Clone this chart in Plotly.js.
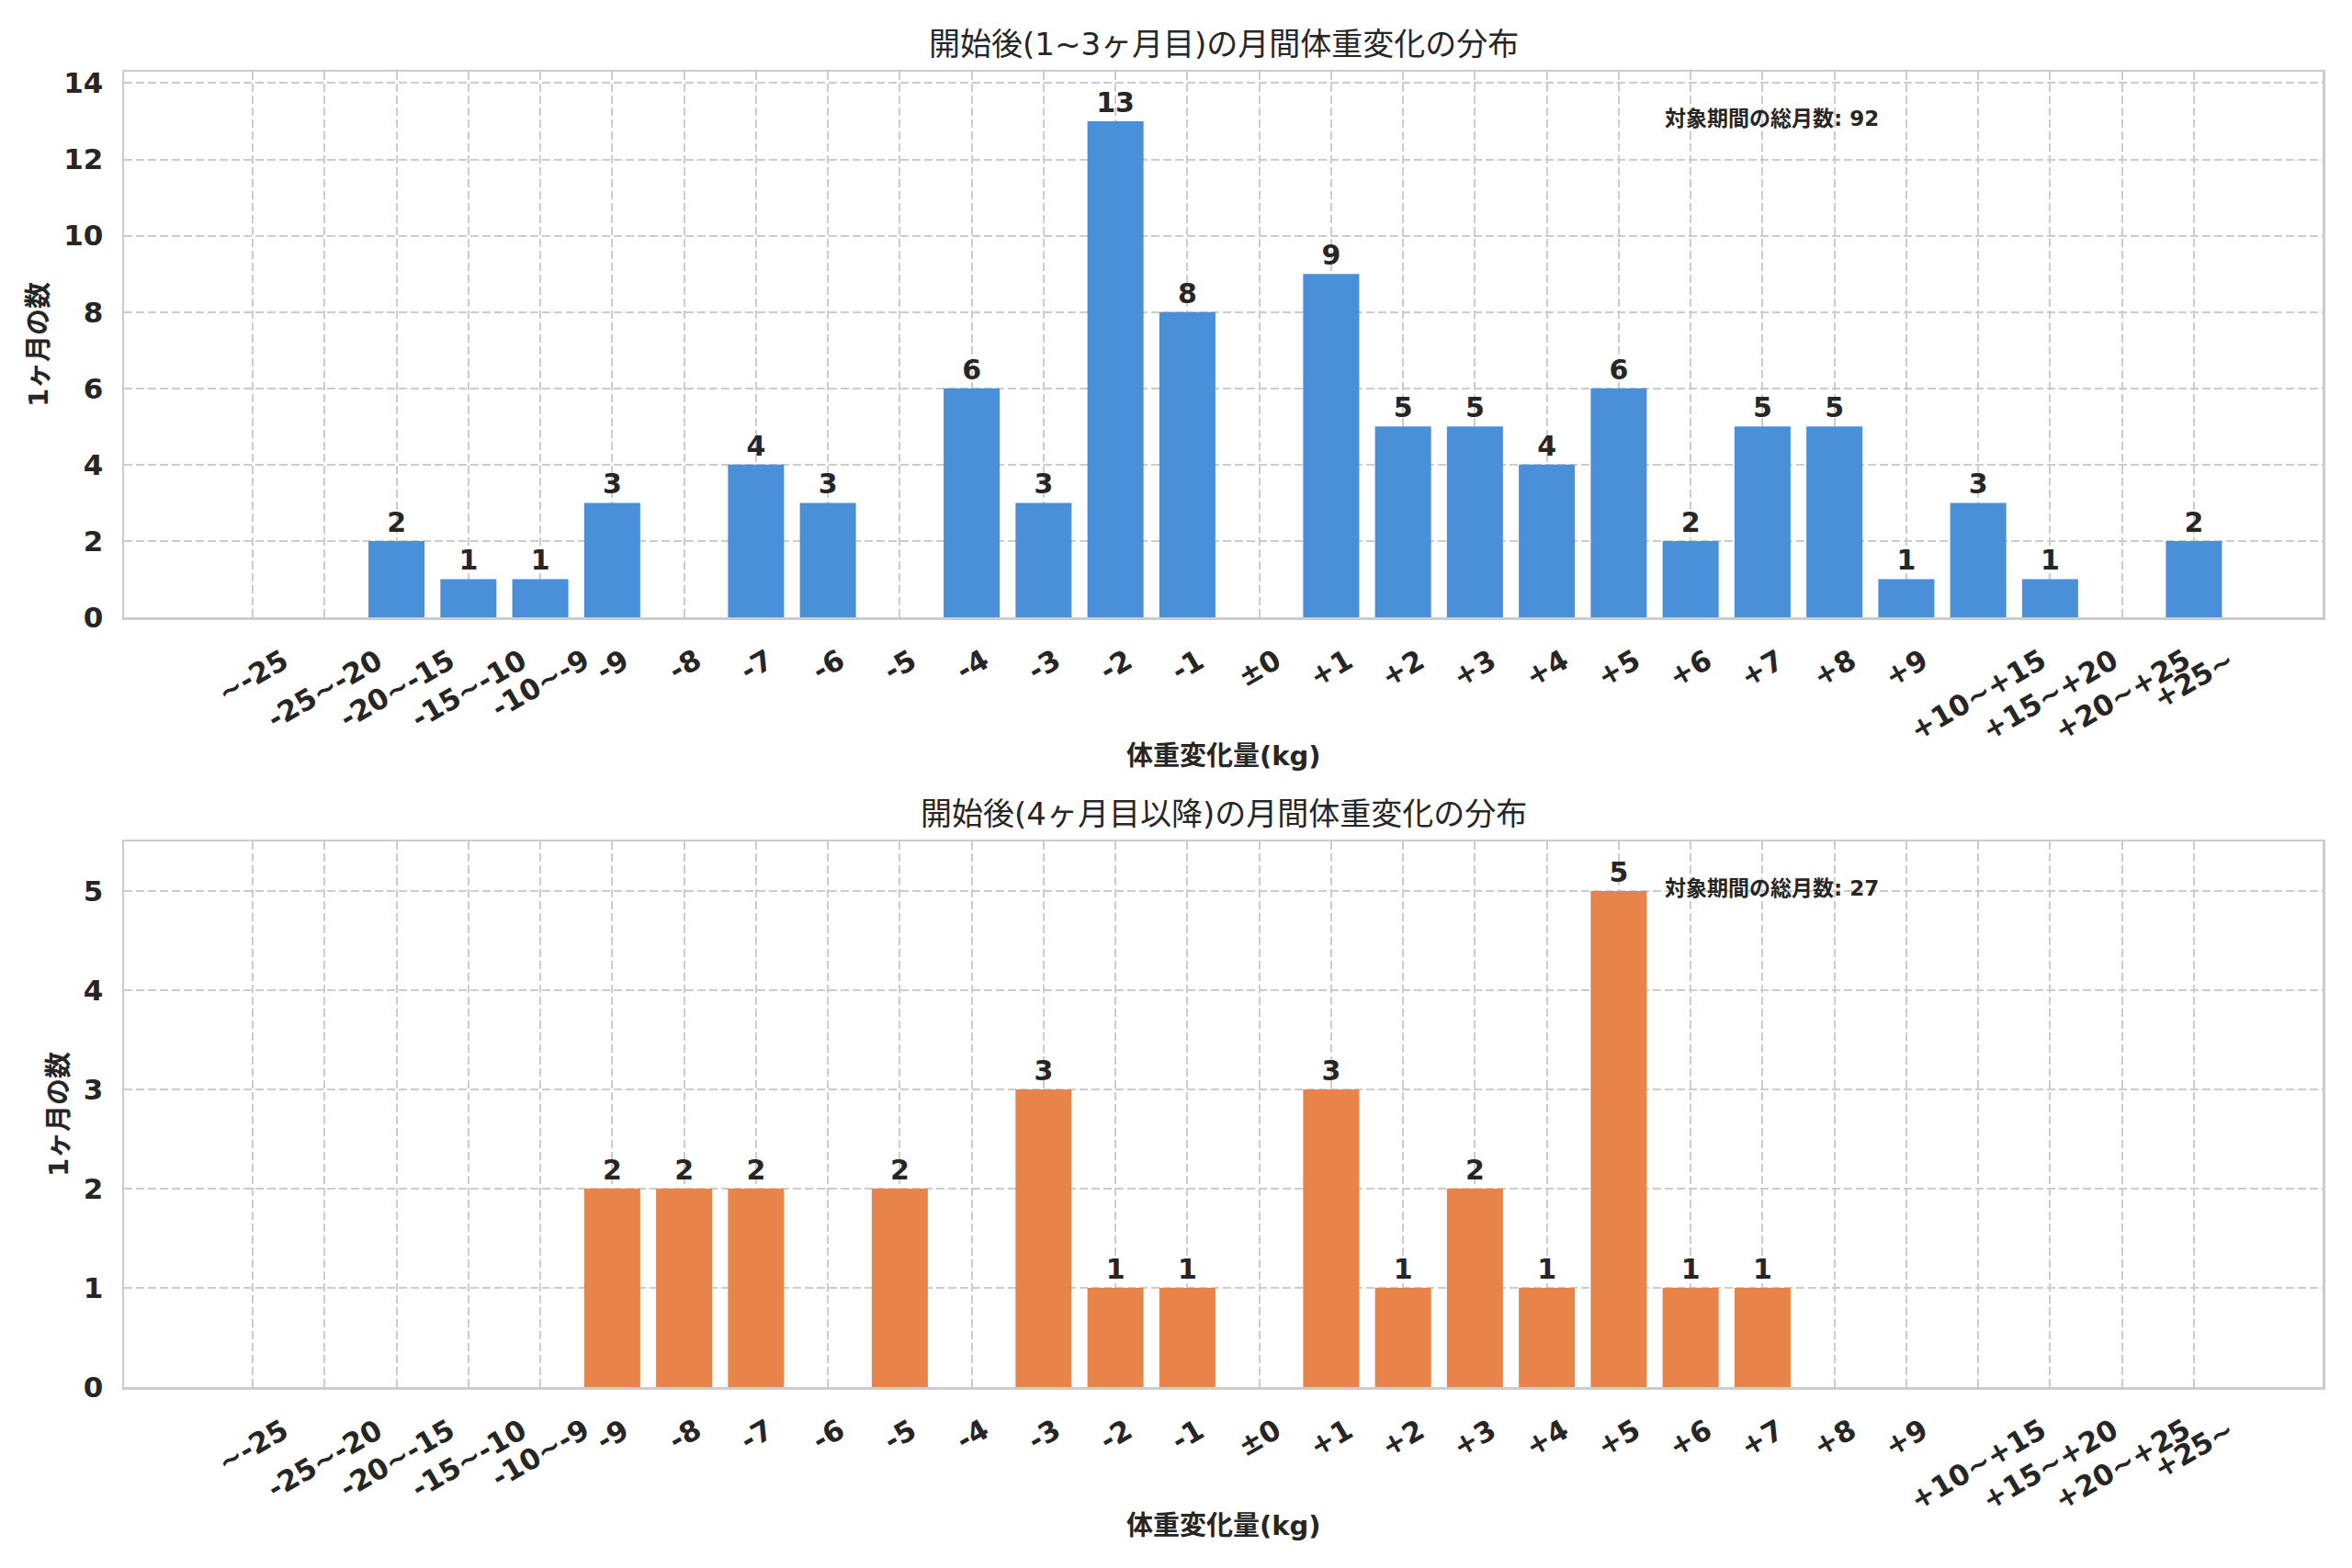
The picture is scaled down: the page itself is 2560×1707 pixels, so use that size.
<!DOCTYPE html>
<html>
<head>
<meta charset="utf-8">
<script src="https://cdn.plot.ly/plotly-3.0.1.min.js"></script>
<style>html,body{margin:0;padding:0;background:#fff;}#chart{width:2560px;height:1707px;}</style>
</head>
<body>
<div id="chart"></div>
<script>
const categories = ["~-25","-25~-20","-20~-15","-15~-10","-10~-9","-9","-8","-7","-6","-5","-4","-3","-2","-1","±0","+1","+2","+3","+4","+5","+6","+7","+8","+9","+10~+15","+15~+20","+20~+25","+25~"];
const earlyCounts = [0,0,2,1,1,3,0,4,3,0,6,3,13,8,0,9,5,5,4,6,2,5,5,1,3,1,0,2];
const laterCounts = [0,0,0,0,0,2,2,2,0,2,0,3,1,1,0,3,1,2,1,5,1,1,0,0,0,0,0,0];
const titleEarly = "開始後(1~3ヶ月目)の月間体重変化の分布";
const titleLater = "開始後(4ヶ月目以降)の月間体重変化の分布";
const xLabel = "体重変化量(kg)";
const yLabel = "1ヶ月の数";
const totalLabel = "対象期間の総月数";

const FONT = "DejaVu Sans, Noto Sans CJK JP, sans-serif";
const DARK = "#262626";
const GRID = "#cccccc";

function labels(vals){ return vals.map(v => v === 0 ? "" : String(v)); }
function sum(a){ return a.reduce((s,v)=>s+v,0); }

const traces = [
  {type:"bar", x:categories, y:earlyCounts, xaxis:"x", yaxis:"y", width:0.78,
   marker:{color:"#4A90D9"}, text:labels(earlyCounts), textposition:"outside",
   textfont:{family:FONT,size:30,weight:"bold",color:DARK}, cliponaxis:false, constraintext:"none", hoverinfo:"x+y"},
  {type:"bar", x:categories, y:laterCounts, xaxis:"x2", yaxis:"y2", width:0.78,
   marker:{color:"#E8834A"}, text:labels(laterCounts), textposition:"outside",
   textfont:{family:FONT,size:30,weight:"bold",color:DARK}, cliponaxis:false, constraintext:"none", hoverinfo:"x+y"}
];

const xdom = [135/2560, 2528/2560];
const xaxisBase = {
  type:"category", categoryorder:"array", categoryarray:categories,
  tickvals:categories, showticklabels:false, range:[-1.79, 28.79],
  showgrid:true, gridcolor:GRID, griddash:"9px,4px", gridwidth:2,
  showline:true, mirror:true, linecolor:GRID, linewidth:2.5, zeroline:false, ticks:"", domain:xdom
};
const yaxisBase = {
  showgrid:true, gridcolor:GRID, griddash:"9px,4px", gridwidth:2,
  showline:true, mirror:true, linecolor:GRID, linewidth:2.5, zeroline:false, ticks:"",
  tickfont:{family:FONT,size:31,weight:"bold",color:DARK}, ticklabelstandoff:14,
  title:{text:yLabel, font:{family:FONT,size:29,weight:"bold",color:DARK}, standoff:8}
};

const annotations = [];
[["x","y"],["x2","y2"]].forEach(([xa,ya]) => {
  categories.forEach((c, i) => {
    annotations.push({xref:xa, yref:ya+" domain", x:i, y:0, yshift:-25, xanchor:"center", yanchor:"top",
      textangle:-30, showarrow:false, text:c, font:{family:FONT,size:31,weight:"bold",color:DARK}});
  });
  annotations.push({xref:xa+" domain", yref:ya+" domain", x:0.5, y:0, yshift:-151, xanchor:"center", yanchor:"middle",
    showarrow:false, text:xLabel, font:{family:FONT,size:29,weight:"bold",color:DARK}});
});
annotations.push({xref:"x domain", yref:"y domain", x:0.5, y:1, yshift:30, xanchor:"center", yanchor:"middle",
  showarrow:false, text:titleEarly, font:{family:FONT,size:34,color:DARK}});
annotations.push({xref:"x2 domain", yref:"y2 domain", x:0.5, y:1, yshift:30, xanchor:"center", yanchor:"middle",
  showarrow:false, text:titleLater, font:{family:FONT,size:34,color:DARK}});
annotations.push({xref:"x domain", yref:"y domain", x:0.7, y:0.914, xanchor:"left", yanchor:"middle",
  showarrow:false, text:totalLabel+": "+sum(earlyCounts), font:{family:FONT,size:23,weight:"bold",color:DARK}});
annotations.push({xref:"x2 domain", yref:"y2 domain", x:0.7, y:0.914, xanchor:"left", yanchor:"middle",
  showarrow:false, text:totalLabel+": "+sum(laterCounts), font:{family:FONT,size:23,weight:"bold",color:DARK}});

const layout = {
  width:2560, height:1707, margin:{l:0,r:0,t:0,b:0},
  paper_bgcolor:"#ffffff", plot_bgcolor:"#ffffff", showlegend:false, bargap:0.2,
  font:{family:FONT, color:DARK},
  xaxis:Object.assign({}, xaxisBase, {anchor:"y"}),
  xaxis2:Object.assign({}, xaxisBase, {anchor:"y2"}),
  yaxis:Object.assign({}, yaxisBase, {domain:[(1707-672)/1707,(1707-78)/1707], range:[0,14.3], dtick:2, anchor:"x"}),
  yaxis2:Object.assign({}, yaxisBase, {domain:[(1707-1510)/1707,(1707-916)/1707], range:[0,5.5], dtick:1, anchor:"x2"}),
  annotations:annotations
};

Plotly.newPlot("chart", traces, layout, {staticPlot:true});
</script>
</body>
</html>
